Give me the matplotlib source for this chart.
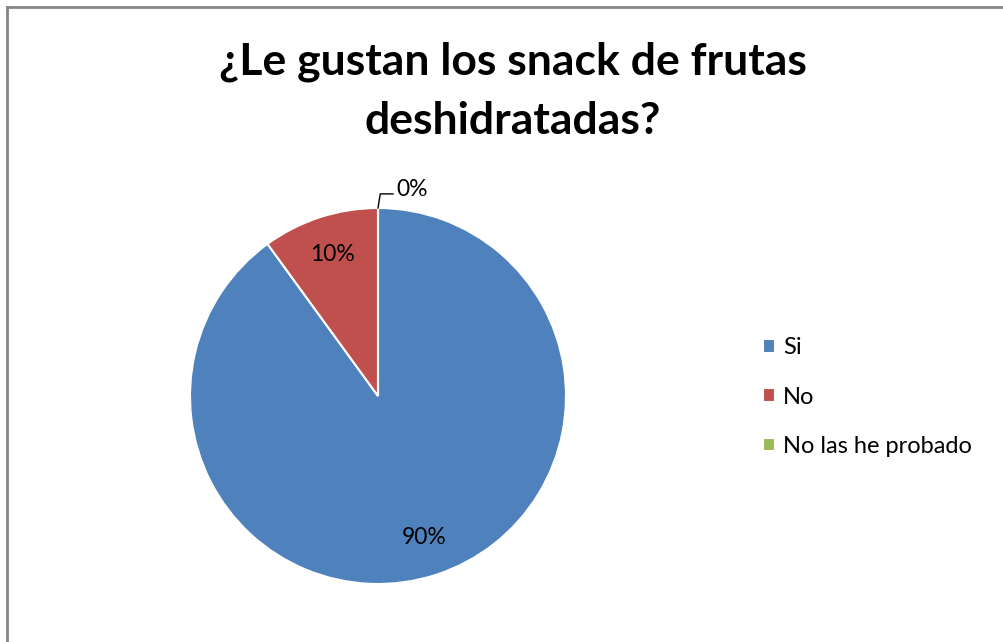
import matplotlib.pyplot as plt
import numpy as np

# survey answers
categories = ['Si', 'No', 'No las he probado']
values = [90, 10, 0]
colors = ['#4F81BD', '#C0504D', '#9BBB59']
title = '¿Le gustan los snack de frutas\ndeshidratadas?'

plt.rcParams['font.family'] = ['Lato', 'DejaVu Sans']

W, H = 1004, 642
fig = plt.figure(figsize=(W / 100, H / 100), dpi=100)

# pie centre (378, 396) px, radius 188 px
cx, cy, r = 378, 396, 188
ax = fig.add_axes([(cx - r) / W, (H - cy - r) / H, 2 * r / W, 2 * r / H])

wedges, _ = ax.pie(values, colors=colors, startangle=90, counterclock=False,
                   wedgeprops=dict(edgecolor='white', linewidth=1.5))
ax.set_xlim(-1, 1)
ax.set_ylim(-1, 1)
ax.set_aspect('equal')

# percentage labels
total = sum(values)
for w, v in zip(wedges, values):
    pct = '%d%%' % round(100 * v / total)
    mid = np.deg2rad((w.theta1 + w.theta2) / 2)
    if v > 0:
        ax.text(0.79 * np.cos(mid), 0.79 * np.sin(mid), pct, ha='center', va='center',
                fontsize=16.5)
    else:
        x0, y0 = np.cos(mid), np.sin(mid)
        ax.plot([x0, x0 + 0.012, x0 + 0.08], [y0, y0 + 0.075, y0 + 0.075], color='black',
                lw=1, clip_on=False)
        ax.text(x0 + 0.1, y0 + 0.1, pct, ha='left', va='center', fontsize=16.5)

fig.text(0.511, 0.858, title, ha='center', va='center', fontsize=32, fontweight='bold',
         linespacing=1.6)

fig.legend(wedges, categories, loc='center left', bbox_to_anchor=(763 / W, 1 - 397 / H),
           frameon=False, fontsize=17, handlelength=0.5, handleheight=0.5,
           handletextpad=0.35, labelspacing=1.2, borderpad=0, borderaxespad=0)

# border of the chart area
fig.add_artist(plt.Line2D([7.5 / W, 7.5 / W], [0, 1 - 6.5 / H], color='#868686', lw=2))
fig.add_artist(plt.Line2D([7.5 / W, 1], [1 - 6.5 / H, 1 - 6.5 / H], color='#868686', lw=2))

fig.savefig('out.png', dpi=100)
